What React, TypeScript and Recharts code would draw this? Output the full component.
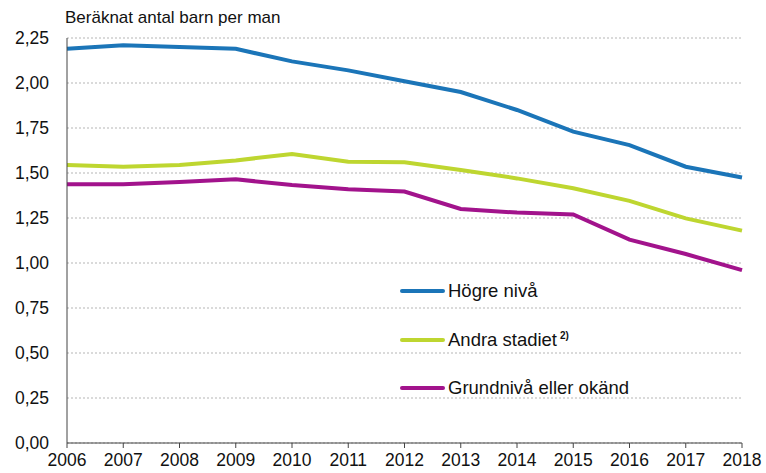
import { LineChart, Line, XAxis, YAxis, CartesianGrid } from 'recharts';

// Beräknat antal barn per man efter utbildningsnivå
const years = ['2006', '2007', '2008', '2009', '2010', '2011', '2012', '2013', '2014', '2015', '2016', '2017', '2018'];
const hogre = [2.19, 2.21, 2.2, 2.19, 2.12, 2.07, 2.01, 1.95, 1.85, 1.73, 1.655, 1.535, 1.475];
const andra = [1.545, 1.535, 1.545, 1.57, 1.605, 1.563, 1.56, 1.517, 1.47, 1.415, 1.345, 1.248, 1.18];
const grund = [1.438, 1.438, 1.45, 1.465, 1.433, 1.41, 1.397, 1.3, 1.28, 1.27, 1.13, 1.05, 0.96];
const yTicks = [0, 0.25, 0.5, 0.75, 1, 1.25, 1.5, 1.75, 2, 2.25];

const SERIES = [
  { key: 'hogre', name: 'Högre nivå', color: '#1B75B8', sup: '' },
  { key: 'andra', name: 'Andra stadiet', color: '#BED630', sup: '2)' },
  { key: 'grund', name: 'Grundnivå eller okänd', color: '#A2138C', sup: '' },
];

const data = years.map((year, i) => ({ year, hogre: hogre[i], andra: andra[i], grund: grund[i] }));

const FONT = '"Liberation Sans", Arial, sans-serif';
const fmt = (v: number) => v.toFixed(2).replace('.', ',');

function LegendBox() {
  return (
    <div style={{ position: 'absolute', left: 400, top: 267, fontFamily: FONT, fontSize: 18.5, color: '#111' }}>
      {SERIES.map((s) => (
        <div key={s.key} style={{ display: 'flex', alignItems: 'center', height: 48.5 }}>
          <span style={{ width: 45, height: 4, borderRadius: 2, background: s.color, marginRight: 3 }} />
          <span>
            {s.name}
            {s.sup && <sup style={{ fontSize: 10, marginLeft: 3, fontWeight: 'bold' }}>{s.sup}</sup>}
          </span>
        </div>
      ))}
    </div>
  );
}

export default function App() {
  return (
    <div style={{ position: 'absolute', left: 0, top: 0, width: 766, height: 473, background: '#fff' }}>
      <LineChart width={766} height={473} data={data} margin={{ top: 38, right: 24, left: 0, bottom: 0 }}>
        <CartesianGrid vertical={false} stroke="#b5b5b5" strokeDasharray="2 2" />
        <XAxis
          dataKey="year"
          height={30}
          stroke="#444"
          tickSize={5}
          tickMargin={6}
          interval={0}
          tick={{ fill: '#111', fontSize: 17.5, fontFamily: FONT }}
        />
        <YAxis
          width={67}
          domain={[0, 2.25]}
          ticks={yTicks}
          tickFormatter={fmt}
          stroke="#444"
          tickLine={false}
          tickSize={0}
          tickMargin={18}
          tick={{ fill: '#111', fontSize: 17.5, fontFamily: FONT }}
        />
        {SERIES.map((s) => (
          <Line
            key={s.key}
            dataKey={s.key}
            name={s.name}
            stroke={s.color}
            strokeWidth={4}
            dot={false}
            isAnimationActive={false}
          />
        ))}
      </LineChart>
      <div style={{ position: 'absolute', left: 65, top: 8, fontFamily: FONT, fontSize: 17, color: '#111' }}>
        Beräknat antal barn per man
      </div>
      <LegendBox />
    </div>
  );
}
